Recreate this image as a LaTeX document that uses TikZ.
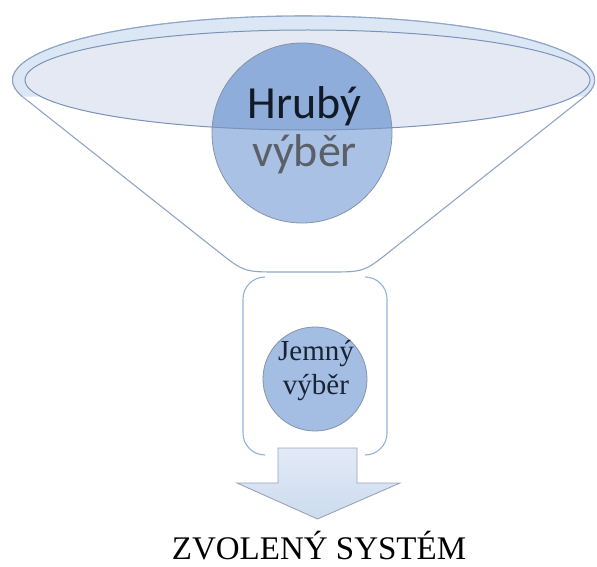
\documentclass[tikz,border=0pt]{standalone}
\usepackage{fontspec}
\setmainfont{Liberation Serif}
\newfontfamily\calibri{Carlito}
\definecolor{funnelline}{HTML}{8FA6C6}
\definecolor{ringfill}{HTML}{DCE7F6}
\definecolor{innerfill}{HTML}{E4E9F4}
\definecolor{innerline}{HTML}{7A93B8}
\definecolor{discfill}{HTML}{A9C1E4}
\definecolor{discupper}{HTML}{8FADDA}
\definecolor{discline}{HTML}{8593A8}
\definecolor{smalldisc}{HTML}{A3BDE3}
\definecolor{bracketline}{HTML}{93B2DA}
\definecolor{arrowtop}{HTML}{E2EAF6}
\definecolor{arrowbottom}{HTML}{CCDBEF}
\definecolor{arrowline}{HTML}{9AA4B4}
\definecolor{darktext}{HTML}{111A26}
\definecolor{greytext}{HTML}{5B6068}
\definecolor{navytext}{HTML}{1A2336}
\begin{document}
\begin{tikzpicture}[x=1pt,y=-1pt,
  funnel/.style={draw=funnelline, line width=1.1pt, fill=white},
  ring/.style={fill=ringfill},
  innerrim/.style={draw=innerline, line width=1pt},
  bigdisc/.style={circle, minimum size=180pt, inner sep=0pt, fill=discfill},
  smalldiscstyle/.style={circle, minimum size=104pt, inner sep=0pt, fill=smalldisc, draw=discline, line width=0.8pt},
  bracket/.style={draw=bracketline, line width=1.1pt},
  bigword/.style={font=\calibri\fontsize{46}{48}\selectfont, anchor=base, inner sep=0pt},
  smallword/.style={font=\fontsize{29}{32}\selectfont, anchor=base, inner sep=0pt, text=navytext},
  downarrow/.style={draw=arrowline, line width=0.9pt, top color=arrowtop, bottom color=arrowbottom},
  caption/.style={font=\fontsize{33}{36}\selectfont, anchor=base, inner sep=0pt}]
\useasboundingbox (0,0) rectangle (597,567);

% funnel body: upper half of the rim, straight sides, rounded bottom
\draw[funnel] (584.6,96.6)
  arc[start angle=-15, end angle=195, x radius=291pt, y radius=64pt]
  -- (216.6,250.3) .. controls (244,272) .. (279,272)
  -- (329,272) .. controls (364,272) .. (391.4,250.2) -- cycle;

% tinted band between the outer rim and the inner ellipse
\fill[ring] (584.6,96.6)
  arc[start angle=-15, end angle=195, x radius=291pt, y radius=64pt]
  -- (41,96.6)
  arc[start angle=199.4, end angle=340.6, x radius=282.5pt, y radius=50pt]
  -- cycle;
\draw[draw=funnelline, line width=1.1pt] (584.6,96.6)
  arc[start angle=-15, end angle=195, x radius=291pt, y radius=64pt];

% inner ellipse of the rim
\fill[innerfill] (307.5,80) ellipse[x radius=282.5pt, y radius=50pt];

% coarse selection disc, darker where the rim covers it
\node[bigdisc] (hruby) at (302,133) {};
\begin{scope}
  \clip (307.5,80) ellipse[x radius=282.5pt, y radius=50pt];
  \fill[discupper] (hruby.center) circle[radius=90pt];
\end{scope}
\draw[discline, line width=0.8pt] (hruby.center) circle[radius=90pt];
\draw[innerrim] (307.5,80) ellipse[x radius=282.5pt, y radius=50pt];
\node[bigword, text=darktext] (hrubyA) at (304.5,119) {Hrubý};
\node[bigword, text=greytext] (hrubyB) at (304.5,167) {výběr};

% neck bracket holding the fine selection
\draw[bracket] (265,277) arc[start angle=90, end angle=180, radius=22pt]
  -- (243,433) arc[start angle=180, end angle=270, radius=22pt];
\draw[bracket] (365,277) arc[start angle=90, end angle=0, radius=22pt]
  -- (387,433) arc[start angle=0, end angle=-90, radius=22pt];

\node[smalldiscstyle] (jemny) at (315,379) {};
\node[smallword] (jemnyA) at (316,360) {Jemný};
\node[smallword] (jemnyB) at (316,394) {výběr};

% block arrow pointing to the result
\draw[downarrow] (278,448) -- (357,448) -- (357,483) -- (400,483)
  -- (317.5,519) -- (237,483) -- (278,483) -- cycle;

\node[caption] (result) at (319,559) {ZVOLENÝ SYSTÉM};
\end{tikzpicture}
\end{document}
